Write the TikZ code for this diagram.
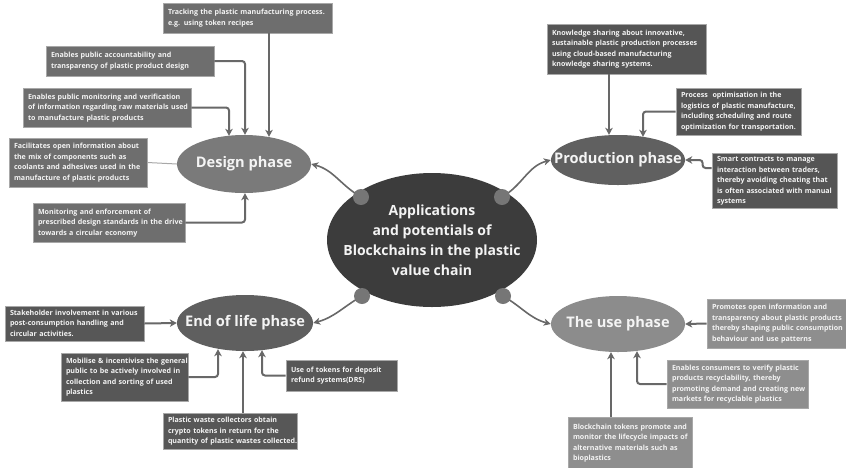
\documentclass[tikz,border=0pt]{standalone}
\usepackage{fontspec}
\setmainfont{Open Sans}
\usetikzlibrary{arrows.meta,shapes.geometric}
\definecolor{cdark}{HTML}{3C3C3C}
\definecolor{ccirc}{HTML}{767676}
\definecolor{cdes}{HTML}{7A7A7A}
\definecolor{cdesbox}{HTML}{6E6E6E}
\definecolor{cprod}{HTML}{606060}
\definecolor{cprodbox}{HTML}{555555}
\definecolor{ceol}{HTML}{5F5F5F}
\definecolor{ceolbox}{HTML}{575757}
\definecolor{cuse}{HTML}{8C8C8C}
\definecolor{cusebox}{HTML}{8E8E8E}
\definecolor{cline}{HTML}{686868}
\definecolor{cborder}{HTML}{A8A8A8}
\definecolor{ctext}{HTML}{F4F4F4}
\newcommand{\boxlines}[1]{\begin{tabular}{@{}l@{}}#1\end{tabular}}
\begin{document}
\begin{tikzpicture}[x=1pt,y=-1pt,
  txtbox/.style={draw=cborder,line width=0.8pt,text=ctext,align=left,inner xsep=5pt,inner ysep=0pt,
    font=\fontsize{7.1}{10.5}\selectfont\bfseries},
  dbox/.style={txtbox,fill=cdesbox},
  pbox/.style={txtbox,fill=cprodbox},
  ebox/.style={txtbox,fill=ceolbox},
  ubox/.style={txtbox,fill=cusebox},
  phase/.style={ellipse,inner sep=0pt},
  phaselabel/.style={inner sep=0pt,text=ctext,font=\fontsize{14.6}{17}\selectfont\bfseries},
  arr/.style={draw=cline,line width=2pt,rounded corners=3pt,-{Stealth[length=7pt,width=7.5pt,inset=2pt]}},
  curvearr/.style={draw=cline,line width=1.6pt,-{Stealth[length=7pt,width=7pt,inset=2pt]}},
  dot/.style={circle,fill=ccirc,minimum size=16pt,inner sep=0pt}
]
\useasboundingbox (0,0) rectangle (846,467);
\fill[white] (0,0) rectangle (846,467);

% central
\node[ellipse,fill=cdark,minimum width=210pt,minimum height=134pt,inner sep=0pt] (core) at (432,240) {};
\node[inner sep=0pt,text=ctext,align=center,font=\fontsize{14}{20}\selectfont\bfseries] (coretext) at (core.center)
  {Applications\\and potentials of\\Blockchains in the plastic\\value chain};

% phases
\node[phase,fill=cdes,minimum width=134pt,minimum height=58pt] (design) at (244,164) {};
\node[phase,fill=cprod,minimum width=134pt,minimum height=50pt] (prod) at (618,160) {};
\node[phase,fill=ceol,minimum width=136pt,minimum height=56pt] (eol) at (245,323) {};
\node[phase,fill=cuse,minimum width=134pt,minimum height=56pt] (use) at (618,324) {};
\node[phaselabel] (designtext) at (design.center) {Design phase};
\node[phaselabel] (prodtext) at (prod.center) {Production phase};
\node[phaselabel] (eoltext) at (eol.center) {End of life phase};
\node[phaselabel] (usetext) at (use.center) {The use phase};

% dots
\coordinate (c1p) at (361,197);
\coordinate (c2p) at (502,197);
\coordinate (c3p) at (362,296);
\coordinate (c4p) at (503,296);
\draw[curvearr] (c1p) to[out=150,in=-15] (design.east);
\draw[curvearr] (c2p) to[out=30,in=195] (prod.west);
\draw[curvearr] (c3p) to[out=210,in=15] (eol.east);
\draw[curvearr] (c4p) to[out=-30,in=165] (use.west);
\node[dot] (c1) at (c1p) {};
\node[dot] (c2) at (c2p) {};
\node[dot] (c3) at (c3p) {};
\node[dot] (c4) at (c4p) {};

% design boxes
\node[dbox,text width=159pt,minimum height=30pt] (d1) at (247.5,18)
  {\boxlines{Tracking the plastic manufacturing process.\\e.g. using token recipes}};
\node[dbox,text width=158pt,minimum height=30pt] (d2) at (130,61)
  {\boxlines{Enables public accountability and\\transparency of plastic product design}};
\node[dbox,text width=158pt,minimum height=39pt] (d3) at (107,107.5)
  {\boxlines{Enables public monitoring and verification\\of information regarding raw materials used\\to manufacture plastic products}};
\node[dbox,text width=128pt,minimum height=49pt] (d4) at (78,162.5)
  {\boxlines{Facilitates open information about\\the mix of components such as\\coolants and adhesives used in the\\manufacture of plastic products}};
\node[dbox,text width=142pt,minimum height=39pt] (d5) at (109,222.5)
  {\boxlines{Monitoring and enforcement of\\prescribed design standards in the drive\\towards a circular economy}};

\coordinate (dn1) at ([xshift=25pt,yshift=-2pt]design.north);
\coordinate (dn2) at ([xshift=1pt]design.north);
\coordinate (dn3) at ([xshift=-15pt,yshift=-1pt]design.north);
\draw[arr] (dn1 |- d1.south) -- (dn1);
\draw[arr] (d2.east) -| (dn2);
\draw[arr] (d3.east) -| (dn3);
\draw[draw=cborder,line width=1pt] (d4.east) -- (design.west);
\draw[arr] (d5.east) -| ([xshift=1pt]design.south);

% production boxes
\node[pbox,text width=149pt,minimum height=50pt] (p1) at (626.5,49)
  {\boxlines{Knowledge sharing about innovative,\\sustainable plastic production processes\\using cloud-based manufacturing\\knowledge sharing systems.}};
\node[pbox,text width=115pt,minimum height=47pt] (p2) at (738.5,111.5)
  {\boxlines{Process\ \ optimisation in the\\logistics of plastic manufacture,\\including scheduling and route\\optimization for transportation.}};
\node[pbox,text width=115pt,minimum height=55pt] (p3) at (774.5,180.5)
  {\boxlines{Smart contracts to manage\\interaction between traders,\\thereby avoiding cheating that\\is often associated with manual\\systems}};

\coordinate (pn1) at ([xshift=-9pt]prod.north);
\coordinate (pn2) at ([xshift=25pt,yshift=-2pt]prod.north);
\coordinate (p3w) at ([yshift=12.5pt]p3.west);
\draw[arr] (pn1 |- p1.south) -- (pn1);
\draw[arr] (p2.west) -| (pn2);
\draw[arr] (p3w) -- ++(-9,0) |- (prod.east);

% end of life boxes
\node[ebox,text width=129pt,minimum height=35pt] (e1) at (74.5,323.5)
  {\boxlines{Stakeholder involvement in various\\post-consumption handling and\\circular activities.}};
\node[ebox,text width=117pt,minimum height=48pt] (e2) at (124.5,377)
  {\boxlines{Mobilise \& incentivise the general\\public to be actively involved in\\collection and sorting of used\\plastics}};
\node[ebox,text width=124pt,minimum height=36pt] (e3) at (230,431)
  {\boxlines{Plastic waste collectors obtain\\crypto tokens in return for the\\quantity of plastic wastes collected.}};
\node[ebox,text width=101pt,minimum height=31pt] (e4) at (341.5,375.5)
  {\boxlines{Use of tokens for deposit\\refund systems(DRS)}};

\coordinate (es1) at ([xshift=-27pt,yshift=2pt]eol.south);
\coordinate (es2) at ([xshift=-2pt]eol.south);
\coordinate (es3) at ([xshift=17pt,yshift=1pt]eol.south);
\draw[arr] (e1.east) -- (eol.west);
\draw[arr] (e2.east) -| (es1);
\draw[arr] (es2 |- e3.north) -- (es2);
\draw[arr] (e4.west) -| (es3);

% use boxes
\node[ubox,text width=150pt,minimum height=49pt] (u1) at (787,323.5)
  {\boxlines{Promotes open information and\\transparency about plastic products\\thereby shaping public consumption\\behaviour and use patterns}};
\node[ubox,text width=131pt,minimum height=48pt] (u2) at (737.5,384)
  {\boxlines{Enables consumers to verify plastic\\products recyclability, thereby\\promoting demand and creating new\\markets for recyclable plastics}};
\node[ubox,text width=114pt,minimum height=52pt] (u3) at (630,443)
  {\boxlines{Blockchain tokens promote and\\monitor the lifecycle impacts of\\alternative materials such as\\bioplastics}};

\coordinate (us2) at ([xshift=19pt,yshift=1pt]use.south);
\coordinate (us3) at ([xshift=-7pt]use.south);
\draw[arr] (u1.west) -- (use.east);
\draw[arr] (u2.west) -| (us2);
\draw[arr] (us3 |- u3.north) -- (us3);
\end{tikzpicture}
\end{document}
